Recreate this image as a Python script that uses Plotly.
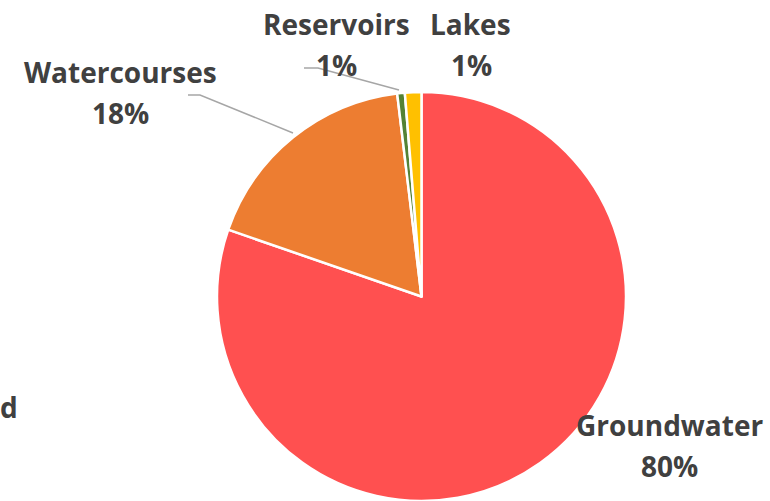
import plotly.graph_objects as go

# Data
sources = ["Groundwater", "Watercourses", "Reservoirs", "Lakes"]
shares = [80.3, 17.8, 0.6, 1.3]
colors = ["#FF5050", "#ED7D31", "#548235", "#FFC000"]

W, H = 770, 501


def px(x, y):
    """page pixel position -> paper coords"""
    return x / W, 1 - y / H


# pie geometry in page pixels
cx, cy, r = 421.5, 296.5, 204.5
x0, y1 = px(cx - r, cy - r)
x1, y0 = px(cx + r, cy + r)

fig = go.Figure()
fig.add_trace(go.Pie(
    labels=sources,
    values=shares,
    sort=False,
    direction="clockwise",
    rotation=0,
    textinfo="none",
    hoverinfo="label+percent",
    marker=dict(colors=colors, line=dict(color="white", width=2.5)),
    domain=dict(x=[x0, x1], y=[y0, y1]),
))

# label placement (name centre, percent centre), Excel-style outside labels
label_pos = {
    "Groundwater": ((669, 424.5), (669, 465.5)),
    "Watercourses": ((120, 72), (120, 113)),
    "Reservoirs": ((336, 24), (336, 65)),
    "Lakes": ((470, 24), (471, 65)),
}
font = dict(family="Open Sans, sans-serif", size=28, color="#404040")
total = sum(shares)
annotations = []
for name, val in zip(sources, shares):
    for txt, pos in zip([name, f"{round(val / total * 100)}%"], label_pos[name]):
        x, y = px(*pos)
        annotations.append(dict(
            text=f"<b>{txt}</b>", x=x, y=y, xref="paper", yref="paper",
            xanchor="center", yanchor="middle", showarrow=False, font=font,
        ))

# stray cropped text at the left edge
x, y = px(9, 407)
annotations.append(dict(
    text="<b>d</b>", x=x, y=y, xref="paper", yref="paper",
    xanchor="center", yanchor="middle", showarrow=False, font=font,
))

# leader lines
leaders = [
    [(188, 95), (200, 95), (293, 133)],
    [(304, 68), (318, 68), (399, 90)],
]
shapes = []
for pts in leaders:
    path = "M " + " L ".join(f"{px(a, b)[0]},{px(a, b)[1]}" for a, b in pts)
    shapes.append(dict(type="path", path=path, xref="paper", yref="paper",
                       line=dict(color="#A6A6A6", width=1.5)))

fig.update_layout(
    width=W, height=H,
    margin=dict(l=0, r=0, t=0, b=0),
    showlegend=False,
    paper_bgcolor="white",
    annotations=annotations,
    shapes=shapes,
)

# drop the default body margin so the figure sits at the page corner
fig.write_html("out.html", config=dict(displayModeBar=False),
               post_script="document.body.style.margin='0';")
